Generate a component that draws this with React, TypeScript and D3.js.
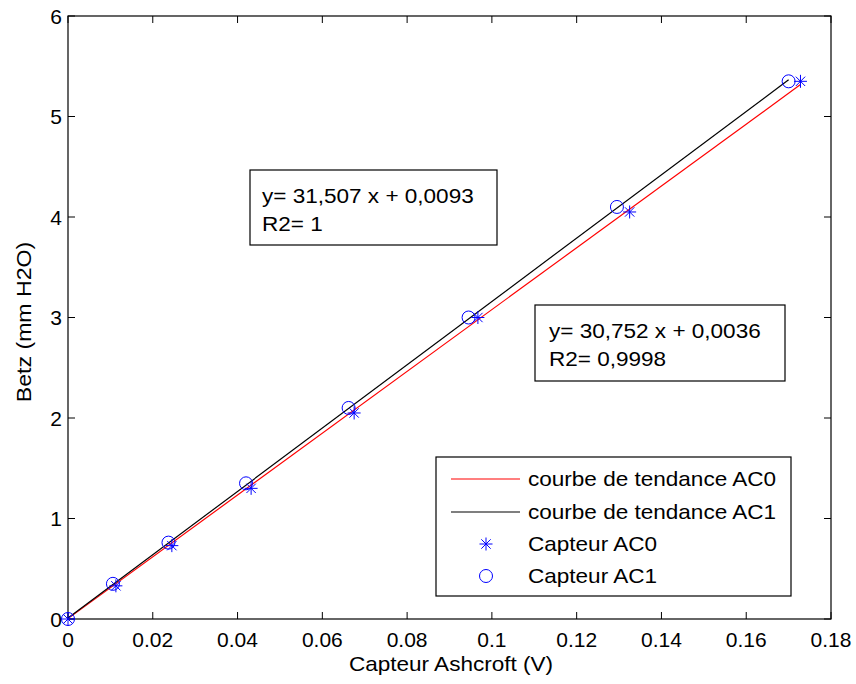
import React from "react";
import * as d3 from "d3";

const ac0X = [0, 0.0113, 0.0245, 0.0432, 0.0675, 0.0967, 0.1325, 0.1728];
const ac0Y = [0, 0.33, 0.73, 1.3, 2.05, 3.0, 4.05, 5.35];
const ac1X = [0, 0.0106, 0.0237, 0.042, 0.0662, 0.0945, 0.1295, 0.17];
const ac1Y = [0, 0.35, 0.76, 1.35, 2.1, 3.0, 4.1, 5.35];
const fit0 = { slope: 30.752, intercept: 0.0036, xMax: 0.1728 };
const fit1 = { slope: 31.507, intercept: 0.0093, xMax: 0.17 };
const xTicks = [0, 0.02, 0.04, 0.06, 0.08, 0.1, 0.12, 0.14, 0.16, 0.18];
const yTicks = [0, 1, 2, 3, 4, 5, 6];
const legendLabels = ["courbe de tendance AC0", "courbe de tendance AC1", "Capteur AC0", "Capteur AC1"];
const box1Lines = ["y= 31,507 x + 0,0093", "R2= 1"];
const box2Lines = ["y= 30,752 x + 0,0036", "R2= 0,9998"];

const W = 856, H = 684;
const L = 68, R = 831, T = 16, B = 619;
const FONT = "Arial, 'Liberation Sans', sans-serif";
const SX = 1.1;

function Txt({ x, y, size = 20.5, anchor = "start", rotate = 0, children, dy }: any) {
  return (
    <text
      transform={`translate(${x},${y}) rotate(${rotate}) scale(${SX},1)`}
      fontSize={size}
      textAnchor={anchor}
      dy={dy}
      fill="#000"
    >
      {children}
    </text>
  );
}

function Star({ x, y, s = 6.5 }: { x: number; y: number; s?: number }) {
  const d = s * 0.72;
  return (
    <g stroke="#0000ff" strokeWidth={1}>
      <line x1={x - s} y1={y} x2={x + s} y2={y} />
      <line x1={x} y1={y - s} x2={x} y2={y + s} />
      <line x1={x - d} y1={y - d} x2={x + d} y2={y + d} />
      <line x1={x - d} y1={y + d} x2={x + d} y2={y - d} />
    </g>
  );
}

export default function App() {
  const x = d3.scaleLinear().domain([0, 0.18]).range([L, R]);
  const y = d3.scaleLinear().domain([0, 6]).range([B, T]);
  const tk = 7;
  const line = d3.line<number[]>().x((d) => x(d[0])).y((d) => y(d[1]));
  const fitPath = (f: typeof fit0) =>
    line([[0, f.intercept], [f.xMax, f.slope * f.xMax + f.intercept]]) as string;

  const lgX = 436, lgY = 457, lgW = 355, lgH = 139;
  const rowY = [479, 512, 544, 576];

  return (
    <svg width={W} height={H} style={{ position: "absolute", left: 0, top: 0, background: "#fff" }} fontFamily={FONT}>
      <rect x={0} y={0} width={W} height={H} fill="#fff" />
      <rect x={L} y={T} width={R - L} height={B - T} fill="none" stroke="#000" strokeWidth={1.2} />
      {xTicks.map((t, i) => (
        <g key={"xt" + i}>
          <line x1={x(t)} x2={x(t)} y1={B} y2={B - tk} stroke="#000" />
          <line x1={x(t)} x2={x(t)} y1={T} y2={T + tk} stroke="#000" />
          <text x={x(t)} y={B + 28} textAnchor="middle" fontSize={21} fill="#000">
            {d3.format("~g")(t)}
          </text>
        </g>
      ))}
      {yTicks.map((t, i) => (
        <g key={"yt" + i}>
          <line x1={L} x2={L + tk} y1={y(t)} y2={y(t)} stroke="#000" />
          <line x1={R} x2={R - tk} y1={y(t)} y2={y(t)} stroke="#000" />
          <text x={L - 6} y={y(t)} dy="0.36em" textAnchor="end" fontSize={21} fill="#000">
            {t}
          </text>
        </g>
      ))}
      <Txt x={451} y={671} anchor="middle">Capteur Ashcroft (V)</Txt>
      <Txt x={31} y={322} anchor="middle" rotate={-90} size={21}>Betz (mm H2O)</Txt>

      <path d={fitPath(fit0)} stroke="#ff0000" strokeWidth={1.2} fill="none" />
      <path d={fitPath(fit1)} stroke="#000" strokeWidth={1.2} fill="none" />

      {ac0X.map((v, i) => (
        <Star key={"s" + i} x={x(v)} y={y(ac0Y[i])} />
      ))}
      {ac1X.map((v, i) => (
        <circle key={"c" + i} cx={x(v)} cy={y(ac1Y[i])} r={6.5} fill="none" stroke="#0000ff" strokeWidth={1} />
      ))}

      <rect x={250} y={170} width={247} height={75} fill="#fff" stroke="#000" strokeWidth={1.2} />
      {box1Lines.map((s, i) => (
        <Txt key={"b1" + i} x={262} y={203 + i * 28}>{s}</Txt>
      ))}
      <rect x={535} y={305} width={250} height={76} fill="#fff" stroke="#000" strokeWidth={1.2} />
      {box2Lines.map((s, i) => (
        <Txt key={"b2" + i} x={549} y={338 + i * 28}>{s}</Txt>
      ))}

      <rect x={lgX} y={lgY} width={lgW} height={lgH} fill="#fff" stroke="#000" strokeWidth={1.2} />
      <line x1={451} x2={520} y1={rowY[0]} y2={rowY[0]} stroke="#ff0000" strokeWidth={1.2} />
      <line x1={451} x2={520} y1={rowY[1]} y2={rowY[1]} stroke="#000" strokeWidth={1.2} />
      <Star x={486} y={rowY[2]} />
      <circle cx={486} cy={rowY[3]} r={6.5} fill="none" stroke="#0000ff" strokeWidth={1} />
      {legendLabels.map((s, i) => (
        <Txt key={"lg" + i} x={528} y={rowY[i]} dy="0.36em">{s}</Txt>
      ))}
    </svg>
  );
}
